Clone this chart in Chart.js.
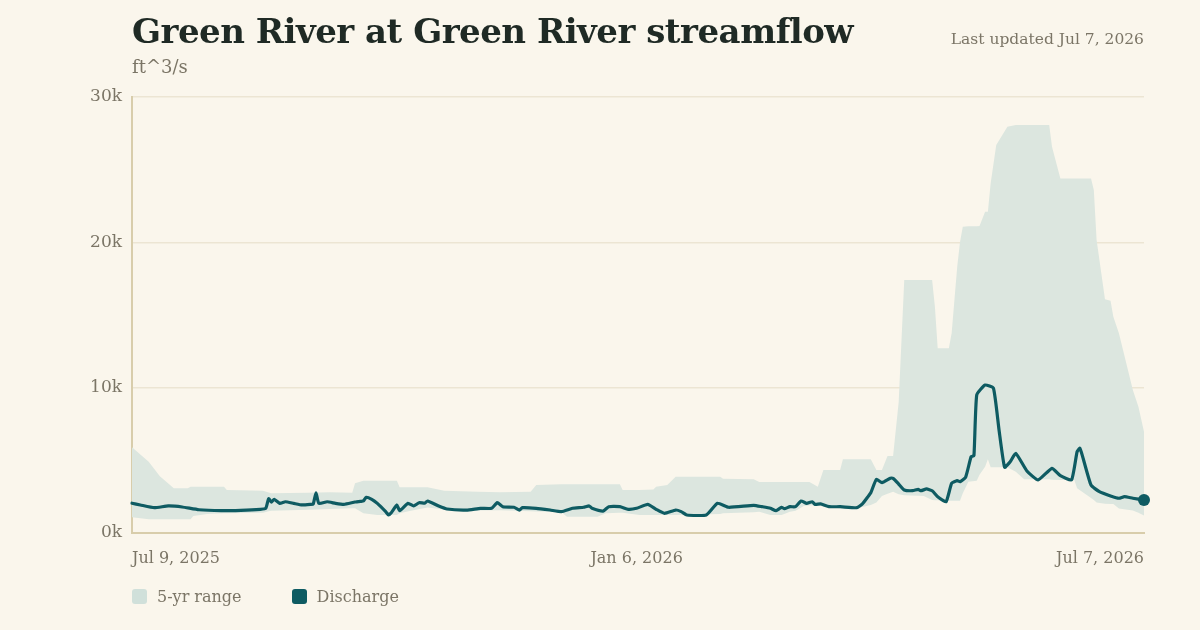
<!DOCTYPE html>
<html>
<head>
<meta charset="utf-8">
<script src="https://cdn.jsdelivr.net/npm/chart.js@4.4.1/dist/chart.umd.min.js"></script>
<style>
  html, body { margin:0; padding:0; background:#faf6ec; }
  #wrap { position:relative; width:1200px; height:630px; background:#faf6ec; font-family:"DejaVu Serif", Georgia, serif; }
  #title { position:absolute; left:132px; top:11px; font-size:34px; font-weight:bold; color:#1f2a25; white-space:nowrap; letter-spacing:-0.5px; }
  #unit { position:absolute; left:132px; top:56px; font-size:18px; color:#7b7566; }
  #updated { position:absolute; right:56px; top:30px; font-size:15.5px; color:#7b7566; }
  #legend { position:absolute; left:132px; top:587px; font-size:16px; color:#7b7566; display:flex; align-items:center; }
  .sw { width:15px; height:15px; border-radius:3px; display:inline-block; margin-right:10px; }
  .item { display:flex; align-items:center; margin-right:50px; }
  canvas { position:absolute; left:0; top:0; }
</style>
</head>
<body>
<div id="wrap">
  <canvas id="c" width="1200" height="630"></canvas>
  <div id="title">Green River at Green River streamflow</div>
  <div id="unit">ft^3/s</div>
  <div id="updated">Last updated Jul 7, 2026</div>
  <div id="legend">
    <div class="item"><span class="sw" style="background:#d0e0da"></span>5-yr range</div>
    <div class="item"><span class="sw" style="background:#0e5b62"></span>Discharge</div>
  </div>
</div>
<script>
// Days since Jul 9, 2025
const tickDays = [0, 181, 363];
const tickLabels = ["Jul 9, 2025", "Jan 6, 2026", "Jul 7, 2026"];
const yTicks = [0, 10000, 20000, 30000];

const rangeDays = [0,6,10,15,20,21,22,27,33,34,47,49,50,63,71,79,80,83,88,95,96,100,106,112,124,132,143,145,154,156,167,170,175,176,182,187,188,192,195,211,212,223,225,229,233,236,238,241,243,246,248,254,255,260,265,267,269,271,273,275,277,284,287,288,289,293,294,296,297,298,300,303,304,306,307,308,310,314,317,320,329,330,333,338,339,344,345,346,349,351,352,354,359,361,363];
const rangeHigh = [5900,4900,3900,3080,3080,3190,3190,3190,3190,2960,2910,2780,2730,2770,2800,2770,3420,3600,3600,3600,3140,3140,3140,2910,2840,2800,2840,3300,3350,3350,3350,3350,3350,2960,2960,3000,3190,3300,3870,3870,3740,3690,3510,3510,3510,3510,3510,3510,3510,3190,4330,4330,5070,5070,5070,4330,4330,5300,5300,9000,17400,17400,17400,15570,12710,12710,13740,18320,20000,21070,21100,21100,21120,22110,22110,24060,26700,27950,28070,28070,28070,26580,24400,24400,24400,24400,23600,20160,16080,15980,14880,13740,9840,8690,6970];
const rangeLow = [1080,940,940,940,940,940,1170,1310,1355,1355,1400,1500,1535,1600,1650,1700,1700,1355,1240,1240,1355,1535,1750,1620,1550,1560,1500,1480,1450,1120,1120,1355,1400,1400,1240,1240,1240,1240,1240,1300,1355,1420,1470,1240,1240,1470,1535,1860,1900,1930,1800,1700,1700,1700,1930,2100,2550,2700,2840,2660,2600,2550,2270,2250,2250,2220,2220,2220,2220,2730,3530,3600,4000,4560,5070,4520,4520,4520,4220,3690,3690,3670,3650,3650,3080,2400,2270,2100,2020,2000,2000,1690,1550,1400,1200];

const dischargeDays = [0,3,8,13,18,24,32,39,46,48,49,50,51,53,55,58,61,64,65,66,67,70,73,76,80,82,83,84,86,88,91,92,93,95,96,99,101,103,105,106,110,113,120,125,129,131,133,137,139,140,145,150,154,158,162,164,165,169,171,175,178,181,185,188,191,195,197,199,206,210,214,223,226,229,231,233,234,236,238,240,242,244,245,247,250,254,260,262,264,265,267,269,272,273,275,277,280,282,283,285,287,289,292,294,296,297,299,301,302,303,306,309,311,313,315,317,321,325,330,333,337,339,340,341,344,347,351,354,356,359,363];
const dischargeValues = [2050,1930,1740,1860,1790,1600,1535,1560,1630,1700,2360,2130,2320,2040,2150,2040,1930,1970,2000,2770,2040,2150,2040,1970,2130,2180,2200,2460,2320,2040,1470,1240,1400,1930,1535,2040,1860,2085,2050,2200,1860,1650,1580,1700,1700,2085,1810,1770,1580,1740,1700,1580,1470,1700,1770,1860,1700,1510,1810,1810,1630,1700,1970,1630,1355,1580,1470,1240,1240,2040,1770,1905,1810,1700,1535,1770,1670,1810,1810,2200,2040,2150,1970,2000,1810,1810,1740,2000,2500,2770,3690,3460,3760,3760,3370,2960,2910,3000,2910,3030,2910,2500,2150,3420,3600,3530,3830,5250,5320,9500,10180,9960,7090,4520,4900,5480,4270,3650,4450,3940,3650,5590,5830,5250,3300,2840,2550,2390,2500,2390,2270];

const pts = (xs, ys) => xs.map((x, i) => ({ x: x, y: ys[i] }));
const FONT = '"DejaVu Serif", Georgia, serif';
const lastIdx = dischargeDays.length - 1;

new Chart(document.getElementById('c'), {
  type: 'line',
  data: {
    datasets: [
      { label: '5-yr range high', order: 2, data: pts(rangeDays, rangeHigh), borderWidth: 0, pointRadius: 0, fill: '+1', backgroundColor: '#dce6df', borderColor: 'rgba(0,0,0,0)', tension: 0 },
      { label: '5-yr range low', order: 3, data: pts(rangeDays, rangeLow), borderWidth: 0, pointRadius: 0, fill: false, borderColor: 'rgba(0,0,0,0)', tension: 0 },
      { label: 'Discharge', order: 0, clip: false, data: pts(dischargeDays, dischargeValues), borderColor: '#0e5b62', borderWidth: 3.2, backgroundColor: '#0e5b62', fill: false, tension: 0.15,
        pointRadius: dischargeDays.map((d, i) => i === lastIdx ? 6 : 0), pointBorderWidth: 0, pointHoverRadius: 0, borderJoinStyle: 'round', borderCapStyle: 'round' }
    ]
  },
  options: {
    responsive: false,
    animation: false,
    events: [],
    layout: { padding: { top: 97, right: 56, left: 0, bottom: 0 } },
    plugins: { legend: { display: false }, tooltip: { enabled: false }, title: { display: false } },
    scales: {
      x: {
        type: 'linear', min: 0, max: 363,
        afterBuildTicks: (s) => { s.ticks = tickDays.map(v => ({ value: v })); },
        afterFit: (s) => { s.height = 97; },
        ticks: { callback: (v) => { const i = tickDays.indexOf(v); return i >= 0 ? tickLabels[i] : ''; },
          align: 'inner', maxRotation: 0, autoSkip: false, padding: 16, color: '#7b7566', font: { family: FONT, size: 16 } },
        grid: { display: false, drawTicks: false },
        border: { display: true, color: '#d8cdab', width: 2 }
      },
      y: {
        min: 0, max: 30000,
        afterBuildTicks: (s) => { s.ticks = yTicks.map(v => ({ value: v })); },
        afterFit: (s) => { s.width = 132; },
        ticks: { callback: (v) => (v / 1000) + 'k', padding: 10, color: '#7b7566', font: { family: FONT, size: 17 } },
        grid: { color: '#ece5d3', lineWidth: 1.5, drawTicks: false },
        border: { display: true, color: '#d8cdab', width: 2 }
      }
    }
  }
});
</script>
</body>
</html>
